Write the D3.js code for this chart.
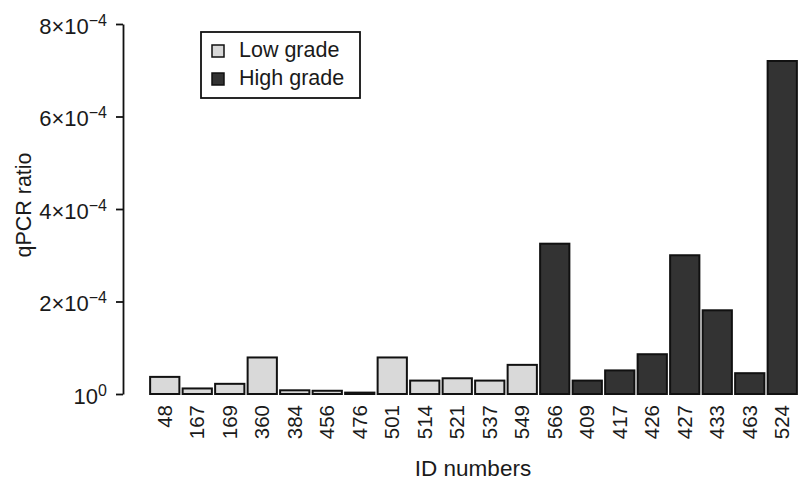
<!DOCTYPE html>
<html>
<head>
<meta charset="utf-8">
<script src="https://cdnjs.cloudflare.com/ajax/libs/d3/7.8.5/d3.min.js"></script>
<style>
  body { margin: 0; background: #fff; }
  text { font-family: "Liberation Sans", Arial, Helvetica, sans-serif; fill: #1a1a1a; }
</style>
</head>
<body>
<div id="chart"></div>
<script>
(function(){
  var width = 802,
      height = 487;

  // sample IDs, in plotted order
  var ids = ["48","167","169","360","384","456","476","501","514","521","537","549",
             "566","409","417","426","427","433","463","524"];
  // qPCR ratio
  var ratios = [3.7e-5, 1.2e-5, 2.2e-5, 7.9e-5, 8e-6, 7e-6, 3e-6, 7.9e-5, 2.9e-5, 3.4e-5, 2.9e-5, 6.3e-5,
                3.25e-4, 2.9e-5, 5.1e-5, 8.6e-5, 3.0e-4, 1.81e-4, 4.5e-5, 7.2e-4];
  var grades = ["Low","Low","Low","Low","Low","Low","Low","Low","Low","Low","Low","Low",
                "High","High","High","High","High","High","High","High"];
  var gradeNames = ["Low grade", "High grade"];
  var yTicks = [0, 2e-4, 4e-4, 6e-4, 8e-4];
  var yTickLabels = [["10","0"], ["2×10","−4"], ["4×10","−4"], ["6×10","−4"], ["8×10","−4"]];

  var data = ids.map(function(id, i){
    return {id: id, value: ratios[i], grade: grades[i]};
  });

  function colorFill(g){
    if (g == "High") {
      return "#333333";
    } else {
      return "#d9d9d9";
    }
  }

  var svg = d3.select("#chart")
    .append("svg")
    .attr("width", width)
    .attr("height", height);

  var x = d3.scaleBand()
    .domain(ids)
    .range([148.5, 798.5])
    .paddingInner(0.1)
    .paddingOuter(0.05);

  var y = d3.scaleLinear()
    .domain([0, 8e-4])
    .range([394, 24]);

  // bars
  svg.selectAll(".bar")
    .data(data)
    .enter().append("rect")
    .attr("class", "bar")
    .attr("x", function(d){ return x(d.id); })
    .attr("width", x.bandwidth())
    .attr("y", function(d){ return y(d.value); })
    .attr("height", function(d){ return y(0) - y(d.value); })
    .attr("fill", function(d){ return colorFill(d.grade); })
    .attr("stroke", "#111")
    .attr("stroke-width", 2);

  // y axis
  var yAxis = svg.append("g")
    .attr("transform", "translate(123,0)")
    .call(d3.axisLeft(y).tickValues(yTicks).tickSize(7).tickSizeOuter(0).tickFormat(""));
  yAxis.select(".domain").attr("stroke", "#111").attr("stroke-width", 1.8);
  yAxis.selectAll(".tick line").attr("stroke", "#111").attr("stroke-width", 1.8);

  yAxis.selectAll(".tick").each(function(d, i){
    var t = d3.select(this).select("text")
      .attr("x", -16)
      .attr("dy", "0.42em")
      .attr("font-size", 22)
      .attr("text-anchor", "end");
    t.selectAll("*").remove();
    t.text(null);
    var lab = yTickLabels[yTicks.indexOf(d)];
    t.append("tspan").text(lab[0]);
    t.append("tspan")
      .attr("dy", "-0.5em")
      .attr("font-size", 16)
      .text(lab[1]);
  });

  // x labels (rotated)
  svg.selectAll(".xlab")
    .data(ids)
    .enter().append("text")
    .attr("class", "xlab")
    .attr("transform", function(d){
      return "translate(" + (x(d) + x.bandwidth()/2 + 7) + ",405) rotate(-90)";
    })
    .attr("text-anchor", "end")
    .attr("font-size", 20.5)
    .text(function(d){ return d; });

  // axis titles
  svg.append("text")
    .attr("transform", "translate(31,205) rotate(-90)")
    .attr("text-anchor", "middle")
    .attr("font-size", 21.5)
    .text("qPCR ratio");

  svg.append("text")
    .attr("x", 473)
    .attr("y", 476)
    .attr("text-anchor", "middle")
    .attr("font-size", 22.5)
    .text("ID numbers");

  // legend
  var legend = svg.append("g").attr("transform", "translate(201,32)");
  legend.append("rect")
    .attr("width", 159)
    .attr("height", 66)
    .attr("fill", "#fff")
    .attr("stroke", "#111")
    .attr("stroke-width", 1.8);

  var item = legend.selectAll(".item")
    .data(gradeNames)
    .enter().append("g")
    .attr("class", "item")
    .attr("transform", function(d, i){ return "translate(11," + (13 + i*28) + ")"; });
  item.append("rect")
    .attr("width", 12)
    .attr("height", 12)
    .attr("fill", function(d, i){ return colorFill(i == 0 ? "Low" : "High"); })
    .attr("stroke", "#111")
    .attr("stroke-width", 1.5);
  item.append("text")
    .attr("x", 27)
    .attr("y", 12)
    .attr("font-size", 21.5)
    .text(function(d){ return d; });
})();
</script>
</body>
</html>
